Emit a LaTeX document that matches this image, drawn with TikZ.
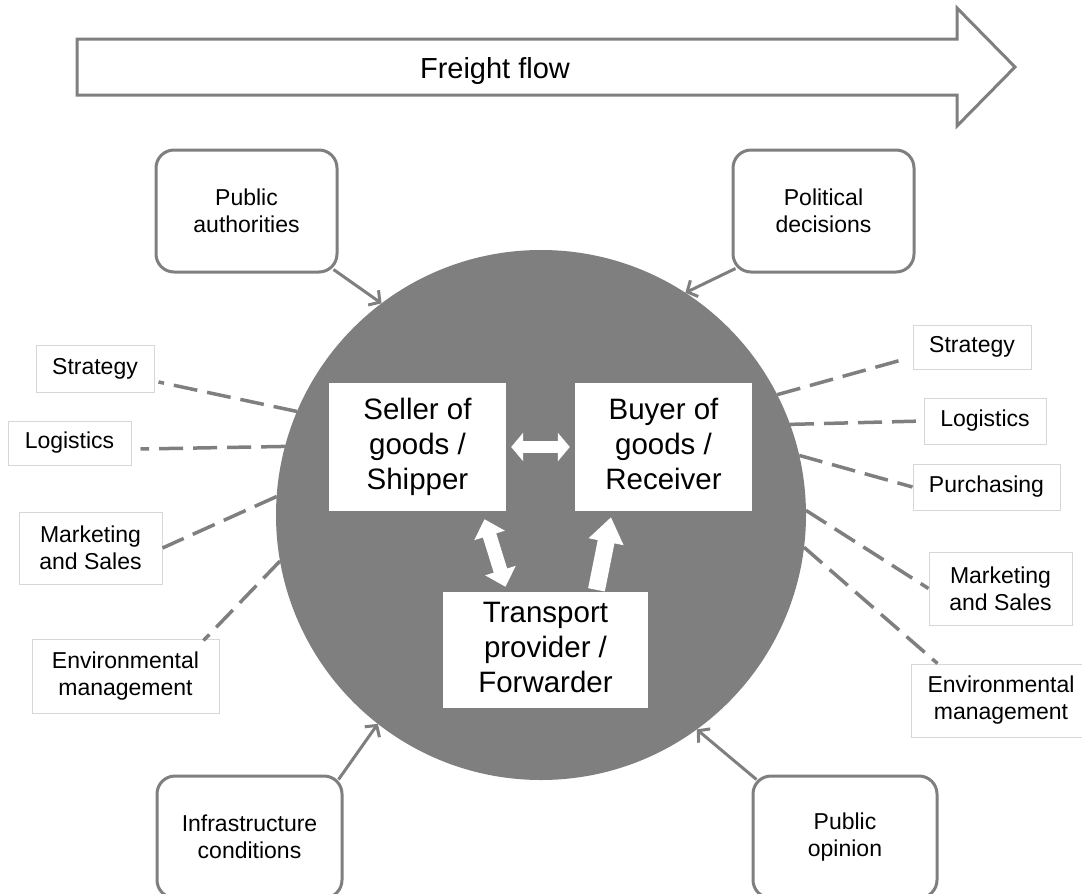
\documentclass[tikz,border=0pt]{standalone}
\usepackage{fontspec}
\setmainfont{Liberation Sans}
\usetikzlibrary{arrows.meta}
\definecolor{lg}{RGB}{127,127,127}
\definecolor{bd}{RGB}{215,215,215}
\begin{document}
\begin{tikzpicture}[x=1pt,y=-1pt,
  small/.style={draw=bd, line width=1pt, fill=white, inner sep=0pt, align=center, font=\fontsize{23}{27}\selectfont},
  rbox/.style={draw=lg, line width=3pt, rounded corners=18pt, fill=white, inner sep=0pt, align=center, minimum height=122pt, font=\fontsize{23}{27}\selectfont},
  wbox/.style={fill=white, inner sep=0pt, align=center, font=\fontsize{29.5}{35}\selectfont},
  dline/.style={draw=lg, line width=3.5pt, dash pattern=on 24pt off 10pt},
  inarrow/.style={draw=lg, line width=3pt, -{Straight Barb[length=8pt,width=18pt]}},
  blk/.style={white, line width=#1},
]
\useasboundingbox (0,0) rectangle (1082,894);

% Freight flow arrow
\draw[draw=lg, line width=3pt, fill=white, line join=miter]
  (77,39) -- (957,39) -- (957,8) -- (1015,67) -- (957,126) -- (957,95) -- (77,95) -- cycle;
\node[font=\fontsize{29}{35}\selectfont, anchor=base, inner sep=0pt] (ff) at (495,78) {Freight flow};

% central circle
\node[circle, fill=lg, minimum size=530pt, inner sep=0pt, outer sep=0pt] (hub) at (541,515) {};

% outer rounded boxes
\node[rbox, minimum width=181pt] (pa) at (246.5,211) {Public\\authorities};
\node[rbox, minimum width=181pt] (pd) at (823.5,211) {Political\\decisions};
\node[rbox, minimum width=185pt] (ic) at (249.5,837) {Infrastructure\\conditions};
\node[rbox, minimum width=184pt] (po) at (845,837) {Public\\opinion};

\draw[inarrow] ([xshift=-5pt,yshift=4pt]pa.south east) -- (hub.127.9);
\draw[inarrow] ([xshift=4pt,yshift=5pt]pd.south west) -- (hub.57.7);
\draw[inarrow] ([xshift=-5pt,yshift=-5pt]ic.north east) -- (hub.232.3);
\draw[inarrow] ([xshift=5pt,yshift=-5pt]po.north west) -- (hub.306.8);

% small boxes left
\node[small, minimum width=118pt, minimum height=47pt] (strL) at (95,368.5) {Strategy};
\node[small, minimum width=123pt, minimum height=44pt] (logL) at (69.5,443) {Logistics};
\node[small, minimum width=143pt, minimum height=72pt] (mkL) at (90.5,548) {Marketing\\and Sales};
\node[small, minimum width=187pt, minimum height=74pt] (envL) at (125.5,676) {Environmental\\management};
% small boxes right
\node[small, minimum width=118pt, minimum height=44pt] (strR) at (972,347) {Strategy};
\node[small, minimum width=122pt, minimum height=46pt] (logR) at (985,421) {Logistics};
\node[small, minimum width=147pt, minimum height=46pt] (purch) at (986.5,487) {Purchasing};
\node[small, minimum width=143pt, minimum height=73pt] (mkR) at (1000.5,588.5) {Marketing\\and Sales};
\node[small, minimum width=180pt, minimum height=73pt] (envR) at (1001,700.5) {Environmental\\management};

% dashed links
\draw[dline] (hub.157.3) -- ([xshift=4pt,yshift=-13.5pt]strL.east);
\draw[dline] (hub.165.1) -- ([xshift=9pt,yshift=-6pt]logL.east);
\draw[dline] (hub.176.3) -- (mkL.east);
\draw[dline] (hub.190.4) -- ([xshift=-16pt,yshift=-2pt]envL.north east);
\draw[dline] (hub.27) -- ([xshift=-11pt,yshift=-13pt]strR.west);
\draw[dline] (hub.20.8) -- (logR.west);
\draw[dline] (hub.13.1) -- (purch.west);
\draw[dline] (hub.1.5) -- (mkR.west);
\draw[dline] (hub.-7.2) -- ([xshift=27pt]envR.north west);

% central actors
\node[wbox, minimum width=177pt, minimum height=128pt] (seller) at (417.5,447) {Seller of\\goods /\\Shipper};
\node[wbox, minimum width=177pt, minimum height=128pt] (buyer) at (663.5,447) {Buyer of\\goods /\\Receiver\vphantom{p}};
\node[wbox, minimum width=205pt, minimum height=116pt] (trans) at (545.5,650) {Transport\\provider /\\Forwarder\vphantom{p}};

% white block arrows
\draw[blk=12pt, {Triangle[length=12pt,width=28pt]}-{Triangle[length=12pt,width=28pt]}, shorten <=5pt, shorten >=5pt] (seller.east) -- (buyer.west);
\coordinate (st1) at ([xshift=67pt,yshift=-8pt]seller.south);
\coordinate (st2) at ([xshift=-40pt,yshift=5pt]trans.north);
\draw[blk=14pt, {Triangle[length=17pt,width=31pt]}-{Triangle[length=17pt,width=31pt]}] (st1) -- (st2);
\coordinate (tb1) at ([xshift=51pt,yshift=2pt]trans.north);
\coordinate (tb2) at ([xshift=-52.5pt,yshift=-6pt]buyer.south);
\draw[blk=17pt, -{Triangle[length=25pt,width=34pt]}] (tb1) -- (tb2);
\end{tikzpicture}
\end{document}
